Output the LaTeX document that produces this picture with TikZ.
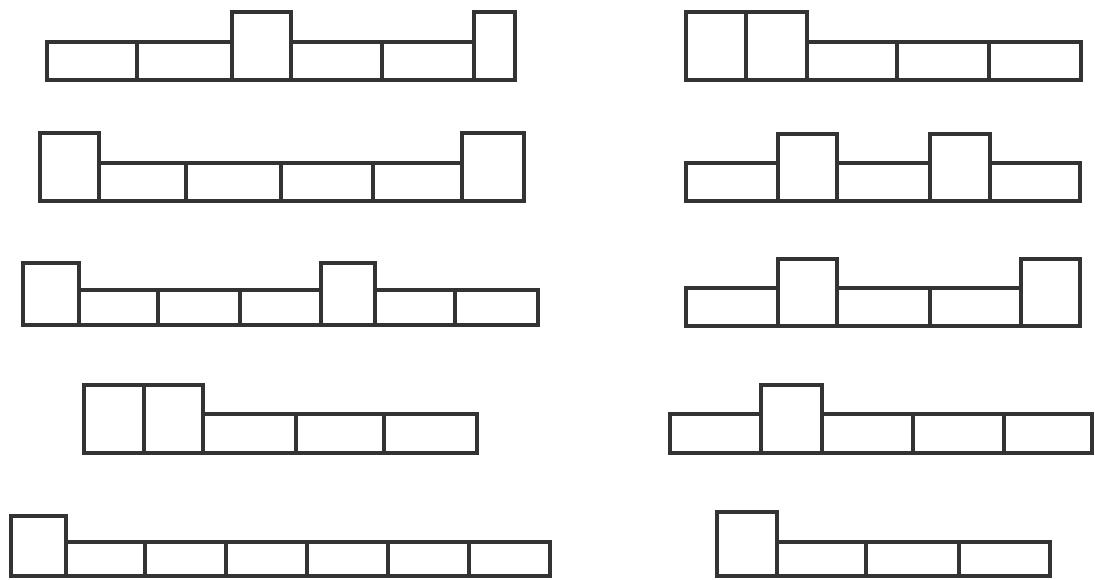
\documentclass[tikz,border=0pt]{standalone}
\begin{document}
\begin{tikzpicture}[x=1pt,y=-1pt,
  brick/.style={draw=black!80,line width=3.6pt,line join=miter}]
\useasboundingbox (0,0) rectangle (1095,579);
% Row 1 left
\draw[brick] (47,42) rectangle (137,80);
\draw[brick] (137,42) rectangle (232,80);
\draw[brick] (232,12) rectangle (291,80);
\draw[brick] (291,42) rectangle (382,80);
\draw[brick] (382,42) rectangle (474,80);
\draw[brick] (474,12) rectangle (515,80);
% Row 2 left
\draw[brick] (40,133) rectangle (99,201);
\draw[brick] (99,163) rectangle (186,201);
\draw[brick] (186,163) rectangle (281,201);
\draw[brick] (281,163) rectangle (373,201);
\draw[brick] (373,163) rectangle (462,201);
\draw[brick] (462,133) rectangle (524,201);
% Row 3 left
\draw[brick] (23,263) rectangle (79,325);
\draw[brick] (79,290) rectangle (158,325);
\draw[brick] (158,290) rectangle (240,325);
\draw[brick] (240,290) rectangle (321,325);
\draw[brick] (321,263) rectangle (375,325);
\draw[brick] (375,290) rectangle (455,325);
\draw[brick] (455,290) rectangle (538,325);
% Row 4 left
\draw[brick] (84,385) rectangle (144,453);
\draw[brick] (144,385) rectangle (203,453);
\draw[brick] (203,414) rectangle (296,453);
\draw[brick] (296,414) rectangle (384,453);
\draw[brick] (384,414) rectangle (477,453);
% Row 5 left
\draw[brick] (11,516) rectangle (66,576);
\draw[brick] (66,542) rectangle (145,576);
\draw[brick] (145,542) rectangle (226,576);
\draw[brick] (226,542) rectangle (307,576);
\draw[brick] (307,542) rectangle (388,576);
\draw[brick] (388,542) rectangle (469,576);
\draw[brick] (469,542) rectangle (550,576);
% Row 1 right
\draw[brick] (686,12) rectangle (746,80);
\draw[brick] (746,12) rectangle (807,80);
\draw[brick] (807,42) rectangle (897,80);
\draw[brick] (897,42) rectangle (989,80);
\draw[brick] (989,42) rectangle (1081,80);
% Row 2 right
\draw[brick] (686,163) rectangle (778,201);
\draw[brick] (778,134) rectangle (837,201);
\draw[brick] (837,163) rectangle (930,201);
\draw[brick] (930,134) rectangle (990,201);
\draw[brick] (990,163) rectangle (1080,201);
% Row 3 right
\draw[brick] (686,288) rectangle (778,326);
\draw[brick] (778,259) rectangle (837,326);
\draw[brick] (837,288) rectangle (930,326);
\draw[brick] (930,288) rectangle (1021,326);
\draw[brick] (1021,259) rectangle (1080,326);
% Row 4 right
\draw[brick] (670,414) rectangle (761,453);
\draw[brick] (761,385) rectangle (822,453);
\draw[brick] (822,414) rectangle (913,453);
\draw[brick] (913,414) rectangle (1004,453);
\draw[brick] (1004,414) rectangle (1092,453);
% Row 5 right
\draw[brick] (717,512) rectangle (777,576);
\draw[brick] (777,542) rectangle (866,576);
\draw[brick] (866,542) rectangle (959,576);
\draw[brick] (959,542) rectangle (1050,576);
\end{tikzpicture}
\end{document}
